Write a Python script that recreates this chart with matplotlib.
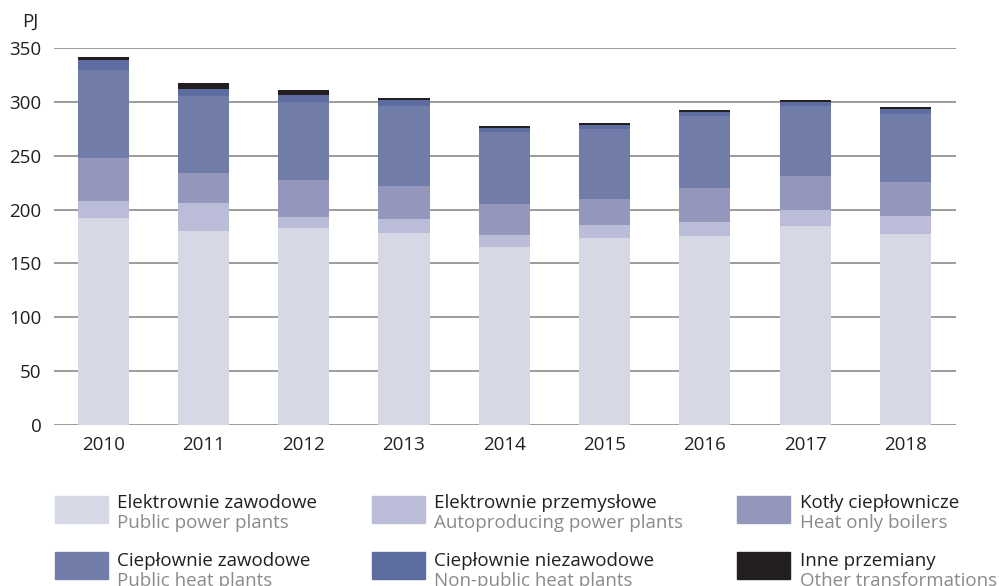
import matplotlib
matplotlib.use("Agg")
import matplotlib.pyplot as plt
from matplotlib.patches import Rectangle
import numpy as np

years = ["2010", "2011", "2012", "2013", "2014", "2015", "2016", "2017", "2018"]
public_power = [192.2, 180.0, 183.0, 178.0, 165.0, 173.6, 175.5, 184.8, 177.3]
autoproducing = [16.0, 26.0, 10.0, 13.0, 11.4, 12.1, 13.0, 14.8, 16.7]
heat_only_boilers = [40.0, 28.0, 34.5, 31.0, 28.6, 24.1, 31.5, 31.4, 31.6]
public_heat = [81.5, 71.5, 72.5, 74.0, 67.0, 65.0, 67.0, 65.0, 63.2]
nonpublic_heat = [9.0, 6.5, 6.4, 5.8, 3.8, 3.8, 3.6, 4.0, 4.6]
other = [2.7, 5.5, 4.6, 1.8, 1.8, 1.8, 1.9, 1.8, 1.9]

labels_pl = ["Elektrownie zawodowe", "Elektrownie przemysłowe", "Kotły ciepłownicze",
             "Ciepłownie zawodowe", "Ciepłownie niezawodowe", "Inne przemiany"]
labels_en = ["Public power plants", "Autoproducing power plants", "Heat only boilers",
             "Public heat plants", "Non-public heat plants", "Other transformations"]
y_ticks = [0, 50, 100, 150, 200, 250, 300, 350]
unit = "PJ"

colors = ["#d6d8e6", "#babcd8", "#9497bc", "#717ca9", "#5d6d9f", "#231f20"]

plt.rcParams['font.family'] = ['Open Sans', 'DejaVu Sans']
FS = 13.5
W, H = 999, 586
fig = plt.figure(figsize=(W / 100, H / 100), dpi=100)
ax = fig.add_axes([54 / W, (H - 425) / H, (956 - 54) / W, (425 - 48) / H])

series = [public_power, autoproducing, heat_only_boilers, public_heat, nonpublic_heat, other]
x = np.arange(len(years))
bottom = np.zeros(len(years))
for vals, c in zip(series, colors):
    ax.bar(x, vals, bottom=bottom, width=0.51, color=c, zorder=3, linewidth=0)
    bottom += np.array(vals)

ax.set_xlim(-0.49, len(years) - 1 + 0.505)
ax.set_ylim(0, 350)
ax.set_yticks(y_ticks)
ax.set_xticks(x)
ax.set_xticklabels(years)
ax.grid(axis='y', color='#9c9c9c', linewidth=1.4, zorder=0)
ax.set_axisbelow(True)
for s in ax.spines.values():
    s.set_visible(False)
ax.tick_params(axis='both', length=0, labelsize=FS, colors='#231f20')
ax.tick_params(axis='y', pad=9)
ax.tick_params(axis='x', pad=8)
fig.text(22 / W, 1 - 27 / H, unit, fontsize=FS, color='#231f20', va='baseline', ha='left')

# legend
sq_x = [55, 372, 737]
txt_x = [117, 434, 800]
row_y = [496, 552]
base1 = [508, 566]
base2 = [528, 586]
for i in range(6):
    r, cidx = divmod(i, 3)
    x0 = sq_x[cidx]
    y0 = row_y[r]
    fig.patches.append(Rectangle((x0 / W, 1 - (y0 + 27) / H), 53 / W, 27 / H,
                                 transform=fig.transFigure, color=colors[i], figure=fig))
    fig.text(txt_x[cidx] / W, 1 - base1[r] / H, labels_pl[i], fontsize=FS,
             color='#231f20', va='baseline', ha='left')
    fig.text(txt_x[cidx] / W, 1 - base2[r] / H, labels_en[i], fontsize=FS,
             color='#8a8a8a', va='baseline', ha='left')

fig.savefig("out.png", dpi=100)
